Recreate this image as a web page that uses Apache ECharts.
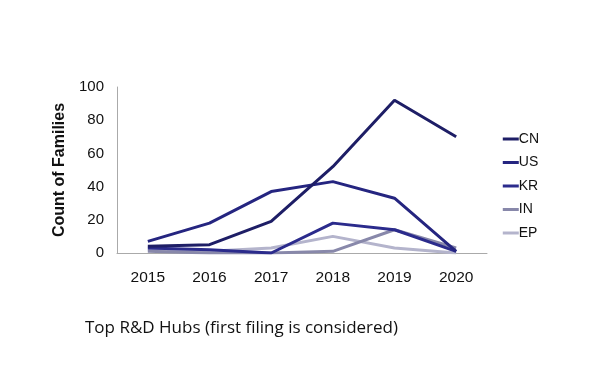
<!DOCTYPE html>
<html><head><meta charset="utf-8">
<script src="https://cdn.jsdelivr.net/npm/echarts@6/dist/echarts.min.js"></script>
<style>html,body{margin:0;padding:0;background:#fff}#c{width:612px;height:371px}</style>
</head><body><div id="c"></div>
<script>
const categories = ['2015','2016','2017','2018','2019','2020'];
const seriesNames = ['CN','US','KR','IN','EP'];
const CN = [4, 5, 19, 52, 92, 70];
const US = [7, 18, 37, 43, 33, 1];
const KR = [3, 2, 0, 18, 14, 1];
const IN = [1, 0, 0, 1, 14, 3];
const EP = [2, 1, 3, 10, 3, 0];
const yTicks = [0, 20, 40, 60, 80, 100];
const values = [CN, US, KR, IN, EP];
const colors = ['#1e1e66', '#252580', '#2b2b8c', '#8888aa', '#b4b4cc'];

const chart = echarts.init(document.getElementById('c'));
chart.setOption({
  animation: false,
  grid: {left: 117, right: 125, top: 87, bottom: 118},
  legend: {
    orient: 'vertical', right: 68, top: 127, itemGap: 9.5,
    itemWidth: 16, itemHeight: 3, icon: 'rect',
    textStyle: {fontFamily: 'Liberation Sans', fontSize: 14, color: '#111', padding: [0,0,0,-5]},
    data: seriesNames
  },
  xAxis: {
    type: 'category', data: categories, boundaryGap: true,
    axisLine: {lineStyle: {color: '#aaaaaa'}}, axisTick: {show: false},
    axisLabel: {fontFamily: 'Liberation Sans', fontSize: 15.5, color: '#111', margin: 17}
  },
  yAxis: {
    type: 'value', min: yTicks[0], max: yTicks[yTicks.length-1], interval: 20,
    name: 'Count of Families', nameLocation: 'middle', nameGap: 44,
    nameTextStyle: {fontFamily: 'Liberation Sans', fontSize: 16, fontWeight: 'bold', color: '#111'},
    axisLine: {show: true, lineStyle: {color: '#aaaaaa'}}, axisTick: {show: false},
    splitLine: {show: false},
    axisLabel: {fontFamily: 'Liberation Sans', fontSize: 15, color: '#111', margin: 13}
  },
  title: {
    text: 'Top R&D Hubs (first filing is considered)', left: 80, top: 315,
    textStyle: {fontFamily: 'Open Sans', fontSize: 17, fontWeight: 'normal', color: '#111'}
  },
  series: seriesNames.map((n, i) => ({
    name: n, type: 'line', data: values[i], showSymbol: false, symbol: 'none',
    lineStyle: {width: 3, color: colors[i]}, itemStyle: {color: colors[i]},
    z: 10 - i
  }))
});
</script></body></html>
